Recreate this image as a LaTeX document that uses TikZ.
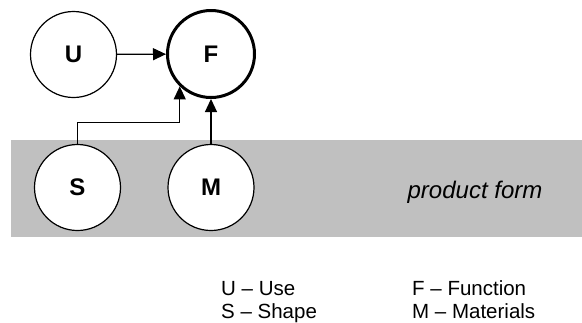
\documentclass[tikz,border=0pt]{standalone}
\usepackage{fontspec}
\setmainfont{Liberation Sans}
\usetikzlibrary{arrows.meta}
\usepackage{xcolor}
\definecolor{bandgray}{RGB}{192,192,192}

\begin{document}
\begin{tikzpicture}[x=1pt,y=-1pt,
  factor/.style={draw, circle, line width=1.2pt, fill=white, minimum size=86pt, inner sep=0pt,
    font=\fontsize{24}{24}\selectfont\bfseries},
  link/.style={line width=1.2pt, -{Triangle[length=13pt,width=12pt]}},
  keytext/.style={anchor=base west, inner sep=0pt, font=\fontsize{20.5}{23}\selectfont}]
\useasboundingbox (0,0) rectangle (582,322);
\fill[bandgray] (11,140) rectangle (582,237);
\node[factor] (U) at (73.5,54.5) {U};
\node[factor, line width=3pt, minimum size=87pt] (F) at (211,54) {F};
\node[factor] (S) at (77.5,187.5) {S};
\node[factor] (M) at (211,187.5) {M};
\node[font=\fontsize{24}{24}\selectfont\itshape] (form) at (475,192) {product form};
\coordinate (bend) at (F.226 |- 0,122.5);
\draw[link] (U) -- (F);
\draw[link] (S.north) |- (bend) -- (F.226);
\draw[link] (M) -- (F);
\foreach \i/\x/\y/\t in {U/221/295/{U -- Use}, S/221/318/{S -- Shape},
                         F/412/295/{F -- Function}, M/412/318/{M -- Materials}} {
 \node[keytext] (key\i) at (\x,\y) {\t};
}
\end{tikzpicture}
\end{document}
